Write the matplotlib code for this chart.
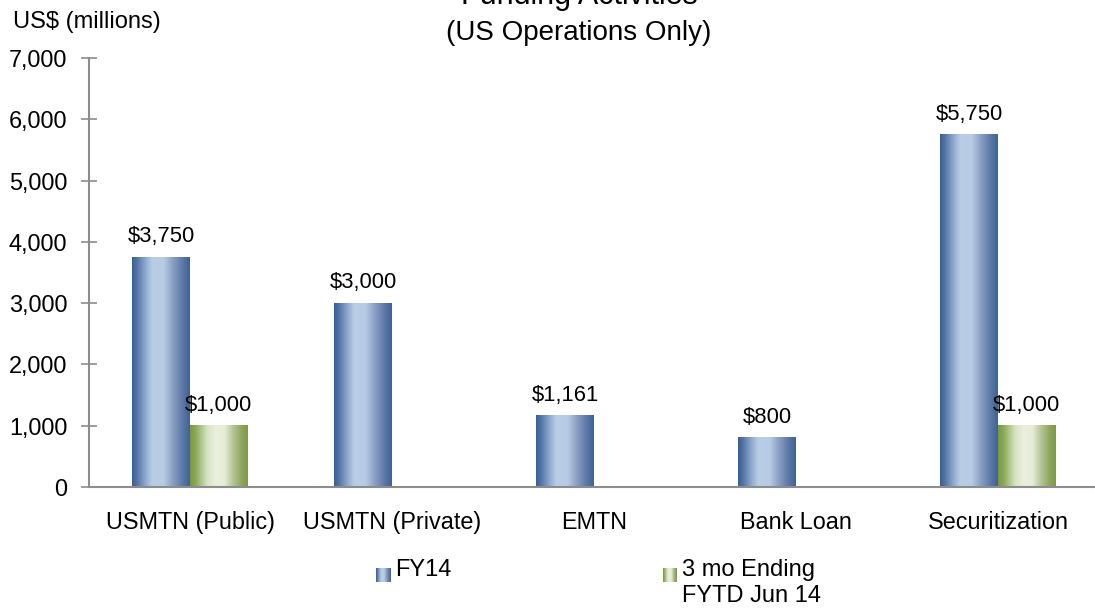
import matplotlib
matplotlib.use("Agg")
import matplotlib.pyplot as plt
import numpy as np
from matplotlib.colors import LinearSegmentedColormap
from matplotlib.ticker import FuncFormatter

plt.rcParams['font.family'] = ['Liberation Sans', 'DejaVu Sans']

categories = ["USMTN (Public)", "USMTN (Private)", "EMTN", "Bank Loan", "Securitization"]
fy14 = [3750, 3000, 1161, 800, 5750]
fytd_jun14 = [1000, 0, 0, 0, 1000]
series_names = ["FY14", "3 mo Ending\nFYTD Jun 14"]
title = "Funding Activities"
subtitle = "(US Operations Only)"
ylabel = "US$ (millions)"

blue_stops = [(0.0, (58, 95, 145)), (0.08, (80, 115, 165)), (0.25, (150, 175, 210)),
              (0.35, (185, 205, 228)), (0.55, (183, 203, 228)), (0.7, (140, 160, 195)),
              (0.85, (100, 125, 170)), (1.0, (60, 98, 148))]
green_stops = [(0.0, (122, 152, 62)), (0.1, (140, 170, 90)), (0.3, (215, 228, 195)),
               (0.45, (235, 240, 222)), (0.6, (230, 236, 215)), (0.75, (180, 195, 150)),
               (0.9, (140, 165, 90)), (1.0, (125, 155, 70))]

def make_cmap(name, stops):
    return LinearSegmentedColormap.from_list(name, [(p, tuple(c / 255 for c in rgb)) for p, rgb in stops])

cmap_blue = make_cmap("fyblue", blue_stops)
cmap_green = make_cmap("fygreen", green_stops)
grad = np.linspace(0, 1, 256).reshape(1, -1)

fig = plt.figure(figsize=(10.95, 6.08), dpi=100)
ax = fig.add_axes([89 / 1095, 1 - 487 / 608, (1099 - 89) / 1095, (487 - 58) / 608])

x = np.arange(len(categories))
w = 0.285
bars1 = ax.bar(x - w / 2, fy14, width=w, color="none", edgecolor="none", zorder=2)
bars2 = ax.bar(x + w / 2, fytd_jun14, width=w, color="none", edgecolor="none", zorder=2)

for bars, cmap in ((bars1, cmap_blue), (bars2, cmap_green)):
    for b in bars:
        h = b.get_height()
        if h <= 0:
            continue
        x0 = b.get_x()
        ax.imshow(grad, cmap=cmap, aspect="auto", extent=(x0, x0 + b.get_width(), 0, h),
                  zorder=2, interpolation="bilinear")
        ax.annotate(f"${h:,.0f}", (x0 + b.get_width() / 2, h), xytext=(0, 7),
                    textcoords="offset points", ha="center", va="bottom", fontsize=15.8)

ax.set_xlim(-0.5, len(categories) - 0.5)
ax.set_ylim(0, 7000)
ax.set_yticks(np.arange(0, 7001, 1000))
ax.yaxis.set_major_formatter(FuncFormatter(lambda v, p: f"{v:,.0f}"))
ax.set_xticks(x)
ax.set_xticklabels(categories, fontsize=16.8)
ax.tick_params(axis="x", length=0, pad=17)
ax.tick_params(axis="y", direction="inout", length=11, width=1.2, color="#8c8c8c",
               labelsize=16.9, pad=10)
for s in ("top", "right"):
    ax.spines[s].set_visible(False)
for s in ("left", "bottom"):
    ax.spines[s].set_color("#8c8c8c")
    ax.spines[s].set_linewidth(1.5)
ax.spines["bottom"].set_zorder(3)

fig.text(13 / 1095, 1 - 22 / 608, ylabel, fontsize=17, ha="left", va="center")
fig.text(579 / 1095, 1 - 4 / 608, title, fontsize=22, ha="center", va="baseline")
fig.text(579 / 1095, 1 - 33 / 608, subtitle, fontsize=20, ha="center", va="center")

# legend
for (lx, cmap, label) in ((376, cmap_blue, series_names[0]), (663, cmap_green, series_names[1])):
    lax = fig.add_axes([lx / 1095, 1 - 582 / 608, 14 / 1095, 14 / 608])
    lax.imshow(grad, cmap=cmap, aspect="auto", interpolation="bilinear")
    lax.axis("off")
    fig.text((lx + 19) / 1095, 1 - 559 / 608, label, fontsize=17, ha="left", va="top",
             linespacing=1.22)

fig.savefig("out.png", dpi=100)
